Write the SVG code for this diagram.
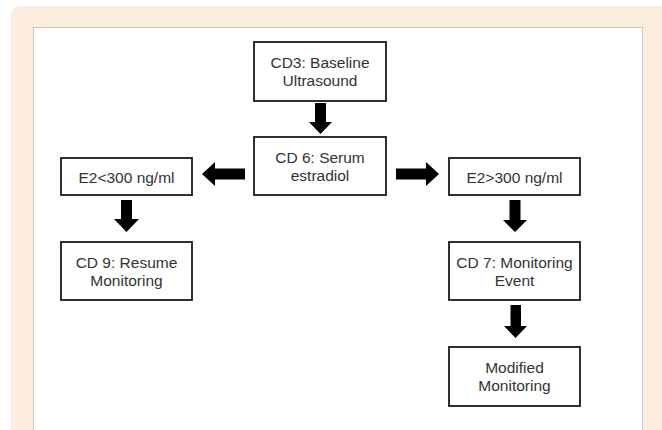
<svg xmlns="http://www.w3.org/2000/svg" width="662" height="430" viewBox="0 0 662 430">
<style>
.box{fill:#fff;stroke:#1a1a1a;stroke-width:1.8}
.t{font-family:"Liberation Sans",Arial,sans-serif;font-size:15.5px;fill:#333;text-anchor:middle}
.arr{fill:#000}
</style>
<rect x="0" y="0" width="662" height="430" fill="#fff"/>
<rect x="11" y="6" width="660" height="440" rx="9" fill="#fdeddf"/>
<rect x="33.5" y="27.5" width="609" height="420" fill="#fff" stroke="#c8c8c8" stroke-width="1"/>
<g id="connectors">
<polygon class="arr" points="315,103 326,103 326,122 332,122 320.5,134 309,122 315,122"/>
<polygon class="arr" points="245,168.5 245,179.5 215,179.5 215,186 202,174 215,162 215,168.5"/>
<polygon class="arr" points="396,168.5 396,179.5 426,179.5 426,186 439,174 426,162 426,168.5"/>
<polygon class="arr" points="121,200 132,200 132,219 139,219 126.5,232 114,219 121,219"/>
<polygon class="arr" points="509.5,200 520.5,200 520.5,220 527,220 515,232 503,220 509.5,220"/>
<polygon class="arr" points="510.5,305 521,305 521,326 527,326 515.5,338 504,326 510.5,326"/>
</g>
<g id="cd3">
<rect class="box" x="254" y="42" width="132" height="59"/>
<text class="t" x="320" y="67.5">CD3: Baseline</text>
<text class="t" x="320" y="85.5">Ultrasound</text>
</g>
<g id="cd6">
<rect class="box" x="254" y="137" width="132" height="58"/>
<text class="t" x="320" y="162.5">CD 6: Serum</text>
<text class="t" x="320" y="181">estradiol</text>
</g>
<g id="e2low">
<rect class="box" x="61" y="158" width="131" height="37"/>
<text class="t" x="126.5" y="182.5">E2&lt;300 ng/ml</text>
</g>
<g id="cd9">
<rect class="box" x="61" y="242" width="131" height="58"/>
<text class="t" x="126.5" y="267.5">CD 9: Resume</text>
<text class="t" x="126.5" y="285.5">Monitoring</text>
</g>
<g id="e2high">
<rect class="box" x="449" y="158" width="131" height="37"/>
<text class="t" x="514.5" y="182.5">E2&gt;300 ng/ml</text>
</g>
<g id="cd7">
<rect class="box" x="449" y="242" width="131" height="58"/>
<text class="t" x="514.5" y="267.5">CD 7: Monitoring</text>
<text class="t" x="514.5" y="285.5">Event</text>
</g>
<g id="modified">
<rect class="box" x="449" y="347" width="131" height="59"/>
<text class="t" x="514.5" y="372.5">Modified</text>
<text class="t" x="514.5" y="390.5">Monitoring</text>
</g>
</svg>
